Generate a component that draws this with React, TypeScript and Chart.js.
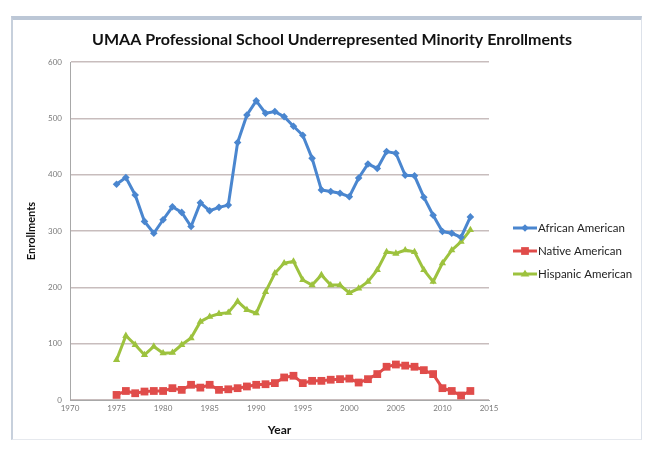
import React, { useEffect, useRef } from 'react';
import { Chart, registerables } from 'chart.js';

Chart.register(...registerables);

const chartTitle = 'UMAA Professional School Underrepresented Minority Enrollments';

const years = [
  1975, 1976, 1977, 1978, 1979, 1980, 1981, 1982, 1983, 1984,
  1985, 1986, 1987, 1988, 1989, 1990, 1991, 1992, 1993, 1994,
  1995, 1996, 1997, 1998, 1999, 2000, 2001, 2002, 2003, 2004,
  2005, 2006, 2007, 2008, 2009, 2010, 2011, 2012, 2013,
];

const africanAmerican = [
  383, 395, 364, 317, 296, 320, 343, 333, 308, 350,
  336, 342, 346, 457, 506, 531, 509, 512, 503, 486,
  470, 429, 373, 370, 367, 361, 394, 419, 411, 441,
  438, 399, 398, 360, 328, 299, 296, 289, 325,
];

const nativeAmerican = [
  9, 16, 12, 15, 16, 16, 21, 18, 27, 22,
  27, 18, 19, 21, 24, 27, 28, 30, 40, 43,
  30, 34, 34, 36, 37, 38, 31, 37, 46, 59,
  63, 61, 59, 53, 46, 21, 16, 8, 16,
];

const hispanicAmerican = [
  71, 114, 98, 80, 95, 83, 84, 98, 110, 139,
  148, 153, 155, 175, 160, 154, 192, 225, 243, 246,
  213, 204, 222, 204, 204, 190, 198, 210, 231, 263,
  260, 266, 263, 231, 210, 243, 266, 281, 302,
];

const seriesNames = ['African American', 'Native American', 'Hispanic American'];
const seriesColors = ['#4A86CF', '#E04C4A', '#9DC23E'];
const seriesPointStyles = ['rectRot', 'rect', 'triangle'];
const seriesPointRadius = [3.8, 5.5, 4.2];

const FONT = 'Lato, "Open Sans", sans-serif';

function drawMarker(ctx: CanvasRenderingContext2D, style: string, x: number, y: number, r: number) {
  ctx.beginPath();
  if (style === 'rect') {
    const s = Math.SQRT1_2 * r;
    ctx.rect(x - s, y - s, 2 * s, 2 * s);
  } else if (style === 'rectRot') {
    ctx.moveTo(x, y - r);
    ctx.lineTo(x + r, y);
    ctx.lineTo(x, y + r);
    ctx.lineTo(x - r, y);
    ctx.closePath();
  } else {
    ctx.moveTo(x, y - r);
    ctx.lineTo(x + r * 1.04, y + r * 0.6);
    ctx.lineTo(x - r * 1.04, y + r * 0.6);
    ctx.closePath();
  }
  ctx.fill();
}

const titleAndLegend = {
  id: 'titleAndLegend',
  afterDraw(chart: any) {
    const ctx: CanvasRenderingContext2D = chart.ctx;
    ctx.save();
    ctx.fillStyle = '#111';
    ctx.font = `bold 16px ${FONT}`;
    ctx.textAlign = 'center';
    ctx.textBaseline = 'middle';
    ctx.fillText(chartTitle, 318, 20);
    ctx.restore();

    const x0 = 499;
    const y0 = 208;
    const gap = 23;
    chart.data.datasets.forEach((ds: any, i: number) => {
      const y = y0 + i * gap;
      ctx.save();
      ctx.strokeStyle = ds.borderColor;
      ctx.lineWidth = 3;
      ctx.beginPath();
      ctx.moveTo(x0, y);
      ctx.lineTo(x0 + 24, y);
      ctx.stroke();
      ctx.fillStyle = ds.borderColor;
      drawMarker(ctx, ds.pointStyle, x0 + 12, y, ds.pointRadius);
      ctx.fillStyle = '#222';
      ctx.font = `11.5px ${FONT}`;
      ctx.textBaseline = 'middle';
      ctx.textAlign = 'left';
      ctx.fillText(ds.label, x0 + 25, y);
      ctx.restore();
    });
  },
};

export default function App() {
  const canvasRef = useRef<HTMLCanvasElement | null>(null);

  useEffect(() => {
    document.body.style.margin = '0';
    const canvas = canvasRef.current;
    if (!canvas) return;
    const series = [africanAmerican, nativeAmerican, hispanicAmerican];
    const chart = new Chart(canvas, {
      type: 'line',
      data: {
        datasets: series.map((vals, i) => ({
          label: seriesNames[i],
          data: years.map((yr, j) => ({ x: yr, y: vals[j] })),
          borderColor: seriesColors[i],
          backgroundColor: seriesColors[i],
          pointStyle: seriesPointStyles[i] as any,
          pointRadius: seriesPointRadius[i],
          pointBorderWidth: 0,
          pointBackgroundColor: seriesColors[i],
          borderWidth: 3,
          tension: 0,
          fill: false,
        })),
      },
      options: {
        animation: false,
        responsive: false,
        devicePixelRatio: 1,
        layout: { padding: { left: 0, right: 149, top: 42, bottom: 0 } },
        plugins: {
          legend: { display: false },
          tooltip: { enabled: false },
          title: { display: false },
        },
        scales: {
          x: {
            type: 'linear',
            min: 1970,
            max: 2015,
            ticks: {
              stepSize: 5,
              padding: 4,
              color: '#7a7a7a',
              font: { family: FONT, size: 8 },
              callback: (v: any) => String(v),
              maxRotation: 0,
            },
            grid: { display: false, drawTicks: false },
            border: { display: true, color: '#a8a8a8', width: 1 },
            title: {
              display: true,
              text: 'Year',
              color: '#111',
              font: { family: FONT, size: 12, weight: 'bold' },
              padding: { top: 0, bottom: 3 },
            },
            afterFit: (s: any) => {
              s.height = 40;
            },
          },
          y: {
            min: 0,
            max: 600,
            ticks: {
              stepSize: 100,
              padding: 8,
              color: '#7a7a7a',
              font: { family: FONT, size: 8 },
            },
            grid: { color: '#c8bdbd', lineWidth: 1.5, drawTicks: false },
            border: { display: true, color: '#a8a8a8', width: 1 },
            title: {
              display: true,
              text: 'Enrollments',
              color: '#111',
              font: { family: FONT, size: 11, weight: 'bold' },
              padding: { top: 11, bottom: 0 },
            },
            afterFit: (s: any) => {
              s.width = 56;
            },
          },
        },
      },
      plugins: [titleAndLegend],
    });
    return () => chart.destroy();
  }, []);

  return (
    <div style={{ position: 'relative', width: 646, height: 451, background: '#fff', overflow: 'hidden' }}>
      <div
        style={{
          position: 'absolute',
          left: 11,
          top: 16,
          width: 631,
          height: 424,
          borderTop: '4px solid #bcc7d6',
          borderLeft: '2px solid #c7d0dc',
          borderRight: '1px solid #dde2ea',
          borderBottom: '1px solid #e6e9ee',
          boxSizing: 'border-box',
        }}
      />
      <canvas
        ref={canvasRef}
        width={624}
        height={420}
        style={{ position: 'absolute', left: 14, top: 20, width: 624, height: 420 }}
      />
    </div>
  );
}
